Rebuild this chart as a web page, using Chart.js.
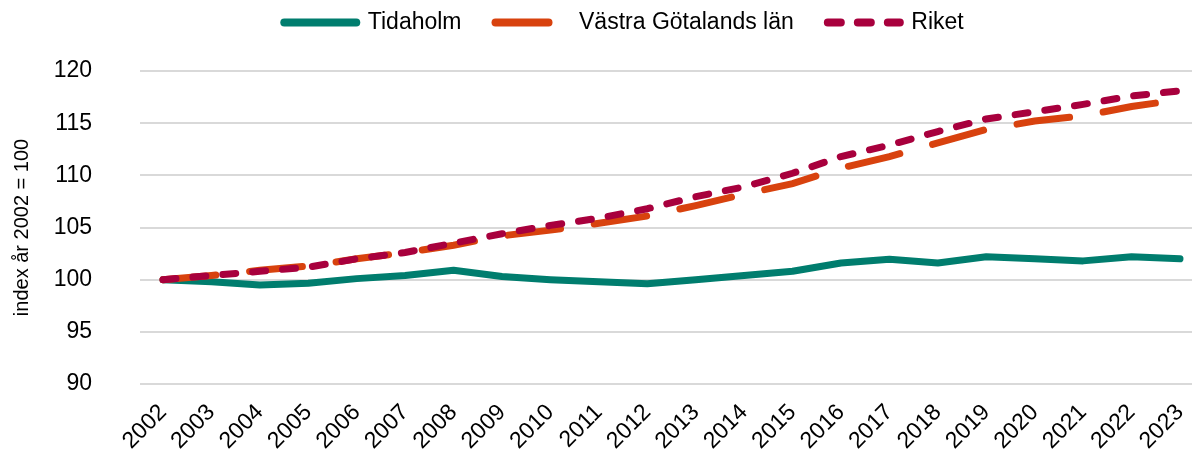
<!DOCTYPE html>
<html>
<head>
<meta charset="utf-8">
<script src="https://cdn.jsdelivr.net/npm/chart.js@4.4.1/dist/chart.umd.min.js"></script>
<style>
  body { margin: 0; background: #fff; }
  #wrap { width: 1192px; height: 450px; }
</style>
</head>
<body>
<div id="wrap"><canvas id="indexChart" width="1192" height="450"></canvas></div>
<script>
// Values (index, 2002 = 100)
const years = [2002, 2003, 2004, 2005, 2006, 2007, 2008, 2009, 2010, 2011, 2012,
               2013, 2014, 2015, 2016, 2017, 2018, 2019, 2020, 2021, 2022, 2023];
const tidaholm = [100, 99.8, 99.5, 99.65, 100.1, 100.4, 100.9, 100.3, 100.0, 99.8, 99.6,
                  100.0, 100.4, 100.8, 101.6, 101.95, 101.6, 102.2, 102.0, 101.8, 102.2, 102.0];
const vastraGotaland = [100, 100.4, 100.9, 101.3, 102.0, 102.6, 103.3, 104.2, 104.75, 105.4, 106.1,
                        107.1, 108.2, 109.2, 110.7, 111.8, 113.1, 114.4, 115.2, 115.7, 116.6, 117.25];
const riket = [100, 100.4, 100.8, 101.2, 102.0, 102.6, 103.5, 104.4, 105.2, 105.9, 106.8,
               107.95, 108.9, 110.2, 111.8, 112.9, 114.2, 115.4, 116.1, 116.8, 117.6, 118.1];
const yTicks = [90, 95, 100, 105, 110, 115, 120];

const FONT = '"Liberation Sans", Arial, sans-serif';

function points(values) {
    return years.map((yr, i) => ({ x: yr, y: values[i] }));
}

// legend row sits higher and a bit right of the canvas centre in the original
const legendShift = {
    id: 'legendShift',
    afterLayout(chart) {
        const lg = chart.legend;
        lg.left += 28;
        lg.right += 28;
        lg.top -= 27;
        lg.bottom -= 27;
    }
};

const ctx = document.getElementById('indexChart');
new Chart(ctx, {
    type: 'line',
    data: {
        datasets: [
            {
                label: 'Tidaholm',
                data: points(tidaholm),
                borderColor: '#007D6E',
                borderWidth: 7,
                borderCapStyle: 'round',
                borderJoinStyle: 'round',
                pointRadius: 0,
                tension: 0,
                order: 3
            },
            {
                label: 'Västra Götalands län',
                data: points(vastraGotaland),
                borderColor: '#D8420E',
                borderWidth: 7,
                borderDash: [53, 34],
                borderCapStyle: 'round',
                pointRadius: 0,
                tension: 0,
                order: 2
            },
            {
                label: 'Riket',
                data: points(riket),
                borderColor: '#A8003D',
                borderWidth: 7,
                borderDash: [13, 17],
                borderCapStyle: 'round',
                pointRadius: 0,
                tension: 0,
                order: 1
            }
        ]
    },
    options: {
        responsive: false,
        animation: false,
        layout: { padding: { top: 4, left: 0, right: 0, bottom: 0 } },
        plugins: {
            legend: {
                position: 'top',
                maxHeight: 70,
                labels: {
                    usePointStyle: true,
                    pointStyle: 'line',
                    pointStyleWidth: 72,
                    boxHeight: 22,
                    padding: 34,
                    color: '#000',
                    font: { family: FONT, size: 23 },
                    generateLabels: function (chart) {
                        return chart.data.datasets.map((ds, i) => ({
                            text: ds.label,
                            strokeStyle: ds.borderColor,
                            fillStyle: ds.borderColor,
                            lineWidth: 8,
                            lineDash: ds.borderDash || [],
                            lineCap: 'round',
                            pointStyle: 'line',
                            fontColor: '#000',
                            hidden: false,
                            datasetIndex: i
                        }));
                    }
                }
            },
            tooltip: { enabled: false }
        },
        scales: {
            x: {
                type: 'linear',
                min: 2001.525,
                max: 2023.248,
                grid: { display: false },
                border: { display: false },
                afterBuildTicks: axis => { axis.ticks = years.map(v => ({ value: v })); },
                afterFit: axis => {
                    axis.paddingLeft = 0;
                    axis.paddingRight = 0;
                    axis.height = 66;
                },
                ticks: {
                    autoSkip: false,
                    minRotation: 45,
                    maxRotation: 45,
                    padding: 7,
                    color: '#000',
                    font: { family: FONT, size: 23 },
                    callback: v => String(v)
                }
            },
            y: {
                min: 90,
                max: 120,
                afterBuildTicks: axis => { axis.ticks = yTicks.map(v => ({ value: v })); },
                grid: { color: '#D9D9D9', lineWidth: 2, drawTicks: false },
                border: { display: false },
                afterFit: axis => { axis.width = 140; },
                ticks: {
                    padding: 48,
                    color: '#000',
                    font: { family: FONT, size: 23 }
                },
                title: {
                    display: true,
                    text: 'index år 2002 = 100',
                    color: '#000',
                    font: { family: FONT, size: 20 },
                    padding: { top: 10, bottom: 0 }
                }
            }
        }
    },
    plugins: [legendShift]
});
</script>
</body>
</html>
